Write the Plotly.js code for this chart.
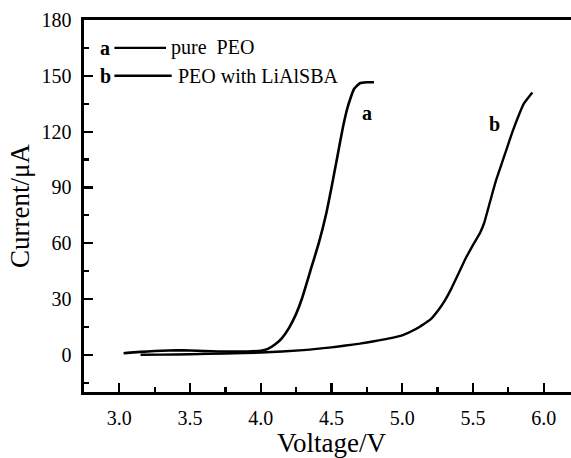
<!DOCTYPE html>
<html>
<head>
<meta charset="utf-8">
<script src="https://cdn.plot.ly/plotly-3.0.1.min.js"></script>
<style>
html,body{margin:0;padding:0;overflow:hidden;background:#fff;}
#chart{width:579px;height:458px;}
</style>
</head>
<body>
<div id="chart"></div>
<script>
// Curve a: pure PEO
const voltageA = [3.03,3.1,3.2,3.3,3.4,3.5,3.6,3.7,3.8,3.9,4.0,4.05,4.1,4.15,4.2,4.25,4.29,4.35,4.41,4.46,4.5,4.54,4.58,4.61,4.63,4.66,4.7,4.75,4.8];
const currentA = [0.8,1.3,1.8,2.2,2.4,2.3,2.0,1.8,1.7,1.8,2.2,3.2,5.5,9,14.5,22,30,45,60,75,90,106,122,132,137,143,146,146.5,146.5];
// Curve b: PEO with LiAlSBA
const voltageB = [3.15,3.3,3.5,3.75,4.0,4.3,4.5,4.6,4.7,4.8,4.9,5.0,5.1,5.2,5.26,5.3,5.35,5.4,5.45,5.5,5.55,5.58,5.62,5.66,5.7,5.74,5.78,5.82,5.86,5.92];
const currentB = [0,0.1,0.3,0.7,1.2,2.5,4,5,6,7.3,8.7,10.5,14,19,24.5,29,36,44,52,59,65.5,71,82,93,102,111,120,128,135,141];
// Tick labels
const xTicks = [3.0,3.5,4.0,4.5,5.0,5.5,6.0];
const xTickText = ["3.0","3.5","4.0","4.5","5.0","5.5","6.0"];
const yTicks = [0,30,60,90,120,150,180];
// Legend text
const legendLetters = ["a","b"];
const legendNames = ["pure\u00a0 PEO","PEO with LiAlSBA"];
const legendY = [165,150];

const font = "Liberation Serif";
const traces = [
  {x: voltageA, y: currentA, mode: "lines", line: {color: "#000", width: 2.6, shape: "spline", smoothing: 0.4}, showlegend: false, hoverinfo: "skip"},
  {x: voltageB, y: currentB, mode: "lines", line: {color: "#000", width: 2.4, shape: "spline", smoothing: 0.4}, showlegend: false, hoverinfo: "skip"}
];

const annotations = [];
const shapes = [];
const lineEnds = [3.33, 3.37];
const textStarts = [3.354, 3.40];
for (let i = 0; i < legendLetters.length; i++) {
  annotations.push({x: 2.90, y: legendY[i], xref: "x", yref: "y", text: "<b>" + legendLetters[i] + "</b>", showarrow: false, font: {family: font, size: 20, color: "#000"}, xanchor: "center", yanchor: "middle"});
  annotations.push({x: textStarts[i], y: legendY[i], xref: "x", yref: "y", text: legendNames[i], showarrow: false, font: {family: font, size: 20, color: "#000"}, xanchor: "left", yanchor: "middle"});
  shapes.push({type: "line", xref: "x", yref: "y", x0: 2.965, x1: lineEnds[i], y0: legendY[i], y1: legendY[i], line: {color: "#000", width: 2.4}});
}
annotations.push({x: 4.748, y: 130, xref: "x", yref: "y", text: "<b>a</b>", showarrow: false, font: {family: font, size: 20, color: "#000"}});
annotations.push({x: 5.654, y: 124, xref: "x", yref: "y", text: "<b>b</b>", showarrow: false, font: {family: font, size: 20, color: "#000"}});

const layout = {
  width: 579, height: 458,
  margin: {l: 84, r: 0, t: 20, b: 66},
  paper_bgcolor: "#fff", plot_bgcolor: "#fff",
  font: {family: font, color: "#000"},
  showlegend: false,
  xaxis: {
    range: [2.75, 6.25], tickvals: xTicks, ticktext: xTickText,
    ticks: "inside", ticklen: 9, tickwidth: 2.2, tickcolor: "#000",
    minor: {dtick: 0.25, tick0: 0, ticks: "inside", ticklen: 5, tickwidth: 2.2, tickcolor: "#000"},
    showline: true, linewidth: 2.6, linecolor: "#000", mirror: true,
    showgrid: false, zeroline: false,
    tickfont: {family: font, size: 20, color: "#000"},
    ticklabelstandoff: 6,
    title: {text: "Voltage/V", font: {family: font, size: 27, color: "#000"}, standoff: 6}
  },
  yaxis: {
    range: [-20, 180], tickvals: yTicks,
    ticks: "inside", ticklen: 9, tickwidth: 2.2, tickcolor: "#000",
    minor: {dtick: 15, tick0: 0, ticks: "inside", ticklen: 5, tickwidth: 2.2, tickcolor: "#000"},
    showline: true, linewidth: 2.6, linecolor: "#000", mirror: true,
    showgrid: false, zeroline: false,
    tickfont: {family: font, size: 20, color: "#000"},
    ticklabelstandoff: 6,
    title: {text: "Current/μA", font: {family: font, size: 27, color: "#000"}, standoff: 4}
  },
  annotations: annotations,
  shapes: shapes
};

Plotly.newPlot("chart", traces, layout, {displayModeBar: false, staticPlot: true});
</script>
</body>
</html>
